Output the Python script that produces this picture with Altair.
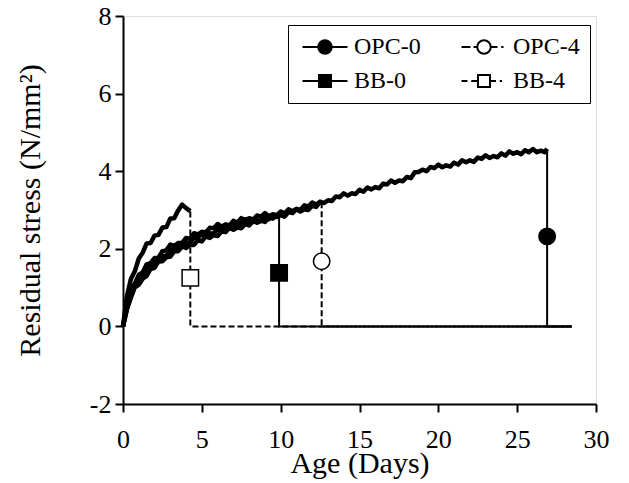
import altair as alt
import pandas as pd

series_names = ["OPC-0", "OPC-4", "BB-0", "BB-4"]

opc0_age = [0, 0.25, 0.5, 0.75, 1, 1.25, 1.5, 1.75, 2, 2.25, 2.5, 2.75, 3, 3.25, 3.5, 3.75,
            4, 4.25, 4.5, 4.75, 5, 5.25, 5.5, 5.75, 6, 6.25, 6.5, 6.75, 7, 7.25, 7.5, 7.75,
            8, 8.25, 8.5, 8.75, 9, 9.25, 9.5, 9.75, 10, 10.25, 10.5, 10.75, 11, 11.25, 11.5, 11.75,
            12, 12.25, 12.5, 12.75, 13, 13.25, 13.5, 13.75, 14, 14.25, 14.5, 14.75, 15, 15.25, 15.5, 15.75,
            16, 16.25, 16.5, 16.75, 17, 17.25, 17.5, 17.75, 18, 18.25, 18.5, 18.75, 19, 19.25, 19.5, 19.75,
            20, 20.25, 20.5, 20.75, 21, 21.25, 21.5, 21.75, 22, 22.25, 22.5, 22.75, 23, 23.25, 23.5, 23.75,
            24, 24.25, 24.5, 24.75, 25, 25.25, 25.5, 25.75, 26, 26.25, 26.5, 26.75, 26.9]
opc0_stress = [0.00, 0.46, 0.90, 1.03, 1.21, 1.28, 1.49, 1.54, 1.71, 1.69, 1.80, 1.82, 1.98, 1.96, 2.10, 2.08,
               2.16, 2.15, 2.29, 2.28, 2.39, 2.34, 2.40, 2.39, 2.51, 2.46, 2.58, 2.54, 2.61, 2.57, 2.69, 2.66,
               2.76, 2.69, 2.74, 2.71, 2.81, 2.76, 2.87, 2.82, 2.87, 2.83, 2.95, 2.92, 3.02, 2.96, 3.02, 3.00,
               3.11, 3.08, 3.21, 3.18, 3.25, 3.23, 3.35, 3.33, 3.43, 3.37, 3.43, 3.41, 3.52, 3.47, 3.58, 3.53,
               3.59, 3.56, 3.68, 3.66, 3.76, 3.70, 3.76, 3.74, 3.85, 3.82, 3.97, 3.98, 4.04, 4.00, 4.11, 4.08,
               4.17, 4.10, 4.15, 4.12, 4.22, 4.17, 4.28, 4.23, 4.28, 4.24, 4.35, 4.32, 4.41, 4.34, 4.39, 4.36,
               4.46, 4.40, 4.51, 4.45, 4.49, 4.44, 4.54, 4.49, 4.57, 4.49, 4.53, 4.49, 4.58]

bb0_age = [0, 0.25, 0.5, 0.75, 1, 1.25, 1.5, 1.75, 2, 2.25, 2.5, 2.75, 3, 3.25, 3.5, 3.75,
           4, 4.25, 4.5, 4.75, 5, 5.25, 5.5, 5.75, 6, 6.25, 6.5, 6.75, 7, 7.25, 7.5, 7.75,
           8, 8.25, 8.5, 8.75, 9, 9.25, 9.5, 9.75, 9.9]
bb0_stress = [0.00, 0.44, 0.74, 1.01, 1.07, 1.23, 1.30, 1.48, 1.51, 1.67, 1.68, 1.78, 1.80, 1.94, 1.94, 2.06,
              2.02, 2.10, 2.10, 2.22, 2.19, 2.32, 2.28, 2.35, 2.33, 2.45, 2.43, 2.54, 2.49, 2.55, 2.53, 2.64,
              2.60, 2.72, 2.67, 2.73, 2.69, 2.81, 2.78, 2.87, 2.80]

opc4_age = [0, 0.25, 0.5, 0.75, 1, 1.25, 1.5, 1.75, 2, 2.25, 2.5, 2.75, 3, 3.25, 3.5, 3.75,
            4, 4.25, 4.5, 4.75, 5, 5.25, 5.5, 5.75, 6, 6.25, 6.5, 6.75, 7, 7.25, 7.5, 7.75,
            8, 8.25, 8.5, 8.75, 9, 9.25, 9.5, 9.75, 10, 10.25, 10.5, 10.75, 11, 11.25, 11.5, 11.75,
            12, 12.25, 12.5, 12.6]
opc4_stress = [0.00, 0.57, 0.95, 1.10, 1.33, 1.39, 1.60, 1.63, 1.76, 1.77, 1.94, 1.96, 2.11, 2.07, 2.15, 2.15,
               2.28, 2.26, 2.40, 2.37, 2.44, 2.42, 2.54, 2.53, 2.64, 2.57, 2.63, 2.60, 2.72, 2.67, 2.79, 2.74,
               2.79, 2.75, 2.86, 2.83, 2.92, 2.84, 2.89, 2.86, 2.96, 2.91, 3.02, 2.97, 3.03, 3.00, 3.12, 3.09,
               3.19, 3.14, 3.21, 3.20]

bb4_age = [0, 0.25, 0.5, 0.75, 1, 1.25, 1.5, 1.75, 2, 2.25, 2.5, 2.75, 3, 3.25, 3.5, 3.75, 4, 4.27]
bb4_stress = [0.00, 0.78, 1.22, 1.42, 1.75, 1.90, 2.14, 2.15, 2.34, 2.36, 2.55, 2.56, 2.78, 2.79, 2.99, 3.14,
              3.05, 2.97]

# ---- failure: top of curve -> 0 -> end of record ----
drop_series = ["OPC-0"] * 3 + ["OPC-4"] * 3 + ["BB-0"] * 3 + ["BB-4"] * 3
drop_age = [26.9, 26.9, 28.45, 12.6, 12.6, 28.45, 9.9, 9.9, 28.45, 4.27, 4.27, 28.45]
drop_stress = [4.55, 0, 0, 3.2, 0, 0, 2.8, 0, 0, 2.96, 0, 0]
drop_order = [0, 1, 2] * 4

# ---- markers ----
marker_series = ["OPC-0", "OPC-4", "BB-0", "BB-4"]
marker_age = [26.9, 12.6, 9.9, 4.27]
marker_stress = [2.32, 1.68, 1.38, 1.25]

x_ticks = [0, 5, 10, 15, 20, 25, 30]
y_ticks = [-2, 0, 2, 4, 6, 8]

FONT = "Liberation Serif"

curve_df = pd.concat([
    pd.DataFrame({"series": "OPC-0", "age": opc0_age, "stress": opc0_stress}),
    pd.DataFrame({"series": "BB-0", "age": bb0_age, "stress": bb0_stress}),
    pd.DataFrame({"series": "OPC-4", "age": opc4_age, "stress": opc4_stress}),
    pd.DataFrame({"series": "BB-4", "age": bb4_age, "stress": bb4_stress}),
], ignore_index=True)
curve_df["idx"] = range(len(curve_df))

drop_df = pd.DataFrame({"series": drop_series, "age": drop_age, "stress": drop_stress, "ord": drop_order})
marker_df = pd.DataFrame({"series": marker_series, "age": marker_age, "stress": marker_stress})

x_enc = alt.X("age:Q", scale=alt.Scale(domain=[0, 30], nice=False),
              axis=alt.Axis(values=x_ticks, title="Age (Days)", grid=False,
                            labelFont=FONT, labelFontSize=26, titleFont=FONT, titleFontSize=30,
                            titleFontWeight="normal", labelColor="black", titleColor="black",
                            domainColor="black", domainWidth=2, tickColor="black", tickWidth=2,
                            tickSize=8, labelPadding=14, titlePadding=-4, labelFlush=False))
y_enc = alt.Y("stress:Q", scale=alt.Scale(domain=[-2, 8], nice=False),
              axis=alt.Axis(values=y_ticks, title="Residual stress (N/mm²)", grid=False,
                            labelFont=FONT, labelFontSize=26, titleFont=FONT, titleFontSize=30,
                            titleFontWeight="normal", labelColor="black", titleColor="black",
                            domainColor="black", domainWidth=2, tickColor="black", tickWidth=2,
                            tickSize=8, labelPadding=4, titlePadding=44, labelFlush=False,
                            labelExpr="datum.value + ''"))

curves = alt.Chart(curve_df).mark_line(color="black", strokeWidth=4.5, strokeJoin="round").encode(
    x=x_enc, y=y_enc, detail="series:N", order="idx:Q")

drops = alt.Chart(drop_df).mark_line(color="black", strokeWidth=2).encode(
    x="age:Q", y="stress:Q", detail="series:N", order="ord:Q",
    strokeDash=alt.StrokeDash("series:N", scale=alt.Scale(domain=series_names,
                              range=[[1, 0], [6, 3], [1, 0], [6, 3]]), legend=None))

markers = alt.Chart(marker_df).mark_point(stroke="black", strokeWidth=1.5, opacity=1, size=270).encode(
    x="age:Q", y="stress:Q",
    shape=alt.Shape("series:N", scale=alt.Scale(domain=series_names,
                    range=["circle", "circle", "square", "square"]), legend=None),
    fill=alt.Fill("series:N", scale=alt.Scale(domain=series_names,
                  range=["black", "white", "black", "white"]), legend=None))

# legend symbols: line + marker, drawn as symbol paths
legend_paths = [
    "M-1,0H1.1M2.9,0H5M1.1,0A0.9,0.9,0,1,1,2.9,0A0.9,0.9,0,1,1,1.1,0Z",
    "M-1,0H0.2M0.6,0H1.1M2.9,0H3.8M4.3,0H4.6M1.1,0A0.9,0.9,0,1,1,2.9,0A0.9,0.9,0,1,1,1.1,0Z",
    "M-1,0H1.2M2.8,0H5M1.2,-0.8H2.8V0.8H1.2Z",
    "M-1,0H-0.2M0.3,0H1.2M2.8,0H3.6M4.1,0H4.4M1.2,-0.8H2.8V0.8H1.2Z",
]

leg = alt.Legend(title=None, orient="none", legendX=165, legendY=9, direction="horizontal",
                 columns=2, symbolSize=225, symbolStrokeWidth=2, symbolStrokeColor="black",
                 labelOffset=32, labelFont=FONT, labelFontSize=24, labelColor="black",
                 strokeColor="black", padding=10, rowPadding=10, columnPadding=36)

legend_layer = alt.Chart(marker_df).mark_point(strokeWidth=2, opacity=1).encode(
    x="age:Q", y="stress:Q",
    shape=alt.Shape("series:N", scale=alt.Scale(domain=series_names, range=legend_paths), legend=leg),
    fill=alt.Fill("series:N", scale=alt.Scale(domain=series_names,
                  range=["black", "white", "black", "white"]), legend=leg),
    stroke=alt.Stroke("series:N", scale=alt.Scale(domain=series_names,
                      range=["black", "black", "black", "black"]), legend=leg),
).transform_filter("datum.age < 0")

chart = alt.layer(curves, drops, markers, legend_layer).resolve_scale(
    shape="independent", fill="independent", strokeDash="independent", stroke="independent"
).properties(
    width=473, height=388,
    padding={"left": 115, "top": 8, "right": 25, "bottom": 79},
    autosize=alt.AutoSizeParams(type="none"),
).configure_view(stroke="black", strokeWidth=2).configure(background="white")

chart.save("out.html", embed_options={"renderer": "svg", "actions": False})
